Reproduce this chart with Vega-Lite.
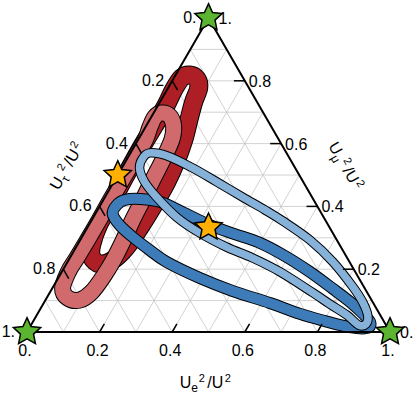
{
"$schema": "https://vega.github.io/schema/vega-lite/v6.json",
"width": 363, "height": 314,
"autosize": {"type": "none"},
"padding": {"left": 27, "top": 18, "right": 25, "bottom": 69},
"background": "white",
"config": {"view": {"stroke": null}},
"datasets": {
"grid": [
{"x":0.05,"y":0.0866,"x2":0.95,"y2":0.0866},{"x":0.1,"y":0.1732,"x2":0.9,"y2":0.1732},{"x":0.15,"y":0.2598,"x2":0.85,"y2":0.2598},{"x":0.2,"y":0.3464,"x2":0.8,"y2":0.3464},{"x":0.25,"y":0.433,"x2":0.75,"y2":0.433},{"x":0.3,"y":0.5196,"x2":0.7,"y2":0.5196},{"x":0.35,"y":0.6062,"x2":0.65,"y2":0.6062},{"x":0.4,"y":0.6928,"x2":0.6,"y2":0.6928},{"x":0.45,"y":0.7794,"x2":0.55,"y2":0.7794},
{"x":0.1,"y":0,"x2":0.55,"y2":0.7794},{"x":0.2,"y":0,"x2":0.6,"y2":0.6928},{"x":0.3,"y":0,"x2":0.65,"y2":0.6062},{"x":0.4,"y":0,"x2":0.7,"y2":0.5196},{"x":0.5,"y":0,"x2":0.75,"y2":0.433},{"x":0.6,"y":0,"x2":0.8,"y2":0.3464},{"x":0.7,"y":0,"x2":0.85,"y2":0.2598},{"x":0.8,"y":0,"x2":0.9,"y2":0.1732},{"x":0.9,"y":0,"x2":0.95,"y2":0.0866},
{"x":0.9,"y":0,"x2":0.45,"y2":0.7794},{"x":0.8,"y":0,"x2":0.4,"y2":0.6928},{"x":0.7,"y":0,"x2":0.35,"y2":0.6062},{"x":0.6,"y":0,"x2":0.3,"y2":0.5196},{"x":0.5,"y":0,"x2":0.25,"y2":0.433},{"x":0.4,"y":0,"x2":0.2,"y2":0.3464},{"x":0.3,"y":0,"x2":0.15,"y2":0.2598},{"x":0.2,"y":0,"x2":0.1,"y2":0.1732},{"x":0.1,"y":0,"x2":0.05,"y2":0.0866}
],
"triangle": [
{"x":0,"y":0,"x2":1,"y2":0},{"x":1,"y":0,"x2":0.5,"y2":0.866},{"x":0.5,"y":0.866,"x2":0,"y2":0}
],
"ticks": [
{"x":0.2,"y":0,"x2":0.213,"y2":0.0225},{"x":0.4,"y":0,"x2":0.413,"y2":0.0225},{"x":0.6,"y":0,"x2":0.613,"y2":0.0225},{"x":0.8,"y":0,"x2":0.813,"y2":0.0225},
{"x":0.4,"y":0.6928,"x2":0.415,"y2":0.6668},{"x":0.3,"y":0.5196,"x2":0.315,"y2":0.4936},{"x":0.2,"y":0.3464,"x2":0.215,"y2":0.3204},{"x":0.1,"y":0.1732,"x2":0.115,"y2":0.1472},
{"x":0.9,"y":0.1732,"x2":0.87,"y2":0.1732},{"x":0.8,"y":0.3464,"x2":0.77,"y2":0.3464},{"x":0.7,"y":0.5196,"x2":0.67,"y2":0.5196},{"x":0.6,"y":0.6928,"x2":0.57,"y2":0.6928}
],
"bottomlabels": [
{"x":0,"y":0,"t":"0."},{"x":0.2,"y":0,"t":"0.2"},{"x":0.4,"y":0,"t":"0.4"},{"x":0.6,"y":0,"t":"0.6"},{"x":0.8,"y":0,"t":"0.8"},{"x":1,"y":0,"t":"1."}
],
"leftlabels": [
{"x":0.4,"y":0.6928,"t":"0.2"},{"x":0.3,"y":0.5196,"t":"0.4"},{"x":0.2,"y":0.3464,"t":"0.6"},{"x":0.1,"y":0.1732,"t":"0.8"}
],
"rightlabels": [
{"x":0.6,"y":0.6928,"t":"0.8"},{"x":0.7,"y":0.5196,"t":"0.6"},{"x":0.8,"y":0.3464,"t":"0.4"},{"x":0.9,"y":0.1732,"t":"0.2"}
],
"vertexleft": [{"x":0.5,"y":0.866,"t":"0."},{"x":0,"y":0,"t":"1."}],
"vertexright": [{"x":0.5,"y":0.866,"t":"1."},{"x":1,"y":0,"t":"0."}],
"greenstars": [{"x":0,"y":0},{"x":1,"y":0},{"x":0.5,"y":0.866}],
"orangestars": [{"x":0.25,"y":0.433},{"x":0.5,"y":0.2887}],
"darkred": [
{"i":1,"x":0.426,"y":0.701},{"i":2,"x":0.448,"y":0.709},{"i":3,"x":0.468,"y":0.698},{"i":4,"x":0.473,"y":0.673},{"i":5,"x":0.459,"y":0.634},{"i":6,"x":0.446,"y":0.585},{"i":7,"x":0.432,"y":0.53},{"i":8,"x":0.412,"y":0.474},{"i":9,"x":0.385,"y":0.414},{"i":10,"x":0.349,"y":0.35},{"i":11,"x":0.31,"y":0.287},{"i":12,"x":0.272,"y":0.232},{"i":13,"x":0.233,"y":0.196},{"i":14,"x":0.2,"y":0.188},{"i":15,"x":0.178,"y":0.207},{"i":16,"x":0.178,"y":0.24},{"i":17,"x":0.197,"y":0.295},{"i":18,"x":0.228,"y":0.35},{"i":19,"x":0.258,"y":0.406},{"i":20,"x":0.288,"y":0.461},{"i":21,"x":0.319,"y":0.516},{"i":22,"x":0.352,"y":0.571},{"i":23,"x":0.382,"y":0.623},{"i":24,"x":0.404,"y":0.668}
],
"lightred": [
{"i":1,"x":0.338,"y":0.563},{"i":2,"x":0.352,"y":0.593},{"i":3,"x":0.371,"y":0.604},{"i":4,"x":0.393,"y":0.596},{"i":5,"x":0.404,"y":0.568},{"i":6,"x":0.399,"y":0.53},{"i":7,"x":0.374,"y":0.474},{"i":8,"x":0.346,"y":0.419},{"i":9,"x":0.319,"y":0.364},{"i":10,"x":0.291,"y":0.309},{"i":11,"x":0.266,"y":0.254},{"i":12,"x":0.241,"y":0.204},{"i":13,"x":0.211,"y":0.154},{"i":14,"x":0.178,"y":0.11},{"i":15,"x":0.145,"y":0.088},{"i":16,"x":0.112,"y":0.094},{"i":17,"x":0.098,"y":0.121},{"i":18,"x":0.114,"y":0.166},{"i":19,"x":0.137,"y":0.204},{"i":20,"x":0.167,"y":0.254},{"i":21,"x":0.199,"y":0.309},{"i":22,"x":0.23,"y":0.364},{"i":23,"x":0.262,"y":0.419},{"i":24,"x":0.294,"y":0.474},{"i":25,"x":0.326,"y":0.53}
],
"darkblue": [
{"i":0,"x":0.236,"y":0.326},{"i":1,"x":0.247,"y":0.35},{"i":2,"x":0.269,"y":0.364},{"i":3,"x":0.31,"y":0.367},{"i":4,"x":0.366,"y":0.359},{"i":5,"x":0.434,"y":0.328},{"i":6,"x":0.503,"y":0.295},{"i":7,"x":0.572,"y":0.27},{"i":8,"x":0.641,"y":0.246},{"i":9,"x":0.71,"y":0.21},{"i":10,"x":0.779,"y":0.166},{"i":11,"x":0.843,"y":0.119},{"i":12,"x":0.89,"y":0.083},{"i":13,"x":0.926,"y":0.05},{"i":14,"x":0.945,"y":0.028},{"i":15,"x":0.942,"y":0.013},{"i":16,"x":0.917,"y":0.01},{"i":17,"x":0.876,"y":0.016},{"i":18,"x":0.821,"y":0.03},{"i":19,"x":0.752,"y":0.05},{"i":20,"x":0.669,"y":0.08},{"i":21,"x":0.567,"y":0.113},{"i":22,"x":0.476,"y":0.149},{"i":23,"x":0.385,"y":0.193},{"i":24,"x":0.338,"y":0.226},{"i":25,"x":0.291,"y":0.262},{"i":26,"x":0.255,"y":0.295}
],
"lightblue": [
{"i":0,"x":0.31,"y":0.452},{"i":1,"x":0.319,"y":0.48},{"i":2,"x":0.338,"y":0.494},{"i":3,"x":0.385,"y":0.486},{"i":4,"x":0.457,"y":0.452},{"i":5,"x":0.523,"y":0.414},{"i":6,"x":0.594,"y":0.372},{"i":7,"x":0.655,"y":0.337},{"i":8,"x":0.705,"y":0.306},{"i":9,"x":0.779,"y":0.254},{"i":10,"x":0.843,"y":0.193},{"i":11,"x":0.898,"y":0.124},{"i":12,"x":0.926,"y":0.08},{"i":13,"x":0.939,"y":0.044},{"i":14,"x":0.934,"y":0.022},{"i":15,"x":0.914,"y":0.019},{"i":16,"x":0.881,"y":0.047},{"i":17,"x":0.834,"y":0.077},{"i":18,"x":0.788,"y":0.108},{"i":19,"x":0.697,"y":0.166},{"i":20,"x":0.622,"y":0.204},{"i":21,"x":0.55,"y":0.234},{"i":22,"x":0.476,"y":0.273},{"i":23,"x":0.412,"y":0.317},{"i":24,"x":0.357,"y":0.372},{"i":25,"x":0.324,"y":0.414}
],
"titlebottom": [{"x":0.4207,"y":-0.1545,"sub":"e"}],
"titleleft": [{"x":0.0869,"y":0.389,"sub":"τ"}],
"titleright": [{"x":0.829,"y":0.513,"sub":"μ"}]
},
"encoding": {
"x": {"field": "x", "type": "quantitative", "scale": {"domain": [0, 1], "nice": false, "zero": false}, "axis": null},
"y": {"field": "y", "type": "quantitative", "scale": {"domain": [0, 0.866], "nice": false, "zero": false}, "axis": null}
},
"layer": [
{"data": {"name": "grid"}, "mark": {"type": "rule", "stroke": "#c6c6c6", "strokeWidth": 0.8}, "encoding": {"x2": {"field": "x2"}, "y2": {"field": "y2"}}},
{"data": {"name": "darkred"}, "mark": {"type": "line", "interpolate": "cardinal-closed", "stroke": "black", "strokeWidth": 19, "strokeJoin": "round"}, "encoding": {"order": {"field": "i", "type": "quantitative"}}},
{"data": {"name": "darkred"}, "mark": {"type": "line", "interpolate": "cardinal-closed", "stroke": "#ad1f24", "strokeWidth": 17, "strokeJoin": "round"}, "encoding": {"order": {"field": "i", "type": "quantitative"}}},
{"data": {"name": "lightred"}, "mark": {"type": "line", "interpolate": "cardinal-closed", "stroke": "black", "strokeWidth": 17, "strokeJoin": "round"}, "encoding": {"order": {"field": "i", "type": "quantitative"}}},
{"data": {"name": "lightred"}, "mark": {"type": "line", "interpolate": "cardinal-closed", "stroke": "#d06a6c", "strokeWidth": 15, "strokeJoin": "round"}, "encoding": {"order": {"field": "i", "type": "quantitative"}}},
{"data": {"name": "darkblue"}, "mark": {"type": "line", "interpolate": "cardinal-closed", "stroke": "black", "strokeWidth": 12, "strokeJoin": "round"}, "encoding": {"order": {"field": "i", "type": "quantitative"}}},
{"data": {"name": "darkblue"}, "mark": {"type": "line", "interpolate": "cardinal-closed", "stroke": "#3e7cb9", "strokeWidth": 10, "strokeJoin": "round"}, "encoding": {"order": {"field": "i", "type": "quantitative"}}},
{"data": {"name": "lightblue"}, "mark": {"type": "line", "interpolate": "cardinal-closed", "stroke": "black", "strokeWidth": 9.5, "strokeJoin": "round"}, "encoding": {"order": {"field": "i", "type": "quantitative"}}},
{"data": {"name": "lightblue"}, "mark": {"type": "line", "interpolate": "cardinal-closed", "stroke": "#86b2da", "strokeWidth": 7.5, "strokeJoin": "round"}, "encoding": {"order": {"field": "i", "type": "quantitative"}}},
{"data": {"name": "triangle"}, "mark": {"type": "rule", "stroke": "black", "strokeWidth": 2, "strokeCap": "round"}, "encoding": {"x2": {"field": "x2"}, "y2": {"field": "y2"}}},
{"data": {"name": "ticks"}, "mark": {"type": "rule", "stroke": "black", "strokeWidth": 1.5}, "encoding": {"x2": {"field": "x2"}, "y2": {"field": "y2"}}},
{"data": {"name": "bottomlabels"}, "mark": {"type": "text", "font": "Liberation Sans", "fontSize": 16, "align": "center", "baseline": "middle", "dx": -2, "dy": 19, "color": "black"}, "encoding": {"text": {"field": "t"}}},
{"data": {"name": "leftlabels"}, "mark": {"type": "text", "font": "Liberation Sans", "fontSize": 16, "align": "right", "baseline": "middle", "dx": -8, "dy": 0, "color": "black"}, "encoding": {"text": {"field": "t"}}},
{"data": {"name": "rightlabels"}, "mark": {"type": "text", "font": "Liberation Sans", "fontSize": 16, "align": "left", "baseline": "middle", "dx": 4, "dy": 1, "color": "black"}, "encoding": {"text": {"field": "t"}}},
{"data": {"name": "vertexleft"}, "mark": {"type": "text", "font": "Liberation Sans", "fontSize": 16, "align": "right", "baseline": "middle", "dx": -12, "dy": 0, "color": "black"}, "encoding": {"text": {"field": "t"}}},
{"data": {"name": "vertexright"}, "mark": {"type": "text", "font": "Liberation Sans", "fontSize": 16, "align": "left", "baseline": "middle", "dx": 10, "dy": 1, "color": "black"}, "encoding": {"text": {"field": "t"}}},
{"data": {"name": "titlebottom"}, "layer": [
 {"mark": {"type": "text", "font": "Liberation Sans", "fontSize": 16, "align": "left", "baseline": "alphabetic", "angle": 0, "dx": 0, "dy": 0, "color": "black"}, "encoding": {"text": {"value": "U"}}},
 {"mark": {"type": "text", "font": "Liberation Sans", "fontSize": 12, "align": "left", "baseline": "alphabetic", "angle": 0, "dx": 11.5, "dy": 4, "color": "black"}, "encoding": {"text": {"field": "sub"}}},
 {"mark": {"type": "text", "font": "Liberation Sans", "fontSize": 11, "align": "left", "baseline": "alphabetic", "angle": 0, "dx": 19, "dy": -6, "color": "black"}, "encoding": {"text": {"value": "2"}}},
 {"mark": {"type": "text", "font": "Liberation Sans", "fontSize": 16, "align": "left", "baseline": "alphabetic", "angle": 0, "dx": 27.5, "dy": 0, "color": "black"}, "encoding": {"text": {"value": "/U"}}},
 {"mark": {"type": "text", "font": "Liberation Sans", "fontSize": 11, "align": "left", "baseline": "alphabetic", "angle": 0, "dx": 45, "dy": -6, "color": "black"}, "encoding": {"text": {"value": "2"}}}
]},
{"data": {"name": "titleleft"}, "layer": [
 {"mark": {"type": "text", "font": "Liberation Sans", "fontSize": 16, "align": "left", "baseline": "alphabetic", "angle": 300, "dx": 0, "dy": 0, "color": "black"}, "encoding": {"text": {"value": "U"}}},
 {"mark": {"type": "text", "font": "Liberation Sans", "fontSize": 12, "align": "left", "baseline": "alphabetic", "angle": 300, "dx": 11.5, "dy": 4, "color": "black"}, "encoding": {"text": {"field": "sub"}}},
 {"mark": {"type": "text", "font": "Liberation Sans", "fontSize": 11, "align": "left", "baseline": "alphabetic", "angle": 300, "dx": 19, "dy": -6, "color": "black"}, "encoding": {"text": {"value": "2"}}},
 {"mark": {"type": "text", "font": "Liberation Sans", "fontSize": 16, "align": "left", "baseline": "alphabetic", "angle": 300, "dx": 27.5, "dy": 0, "color": "black"}, "encoding": {"text": {"value": "/U"}}},
 {"mark": {"type": "text", "font": "Liberation Sans", "fontSize": 11, "align": "left", "baseline": "alphabetic", "angle": 300, "dx": 45, "dy": -6, "color": "black"}, "encoding": {"text": {"value": "2"}}}
]},
{"data": {"name": "titleright"}, "layer": [
 {"mark": {"type": "text", "font": "Liberation Sans", "fontSize": 16, "align": "left", "baseline": "alphabetic", "angle": 60, "dx": 0, "dy": 0, "color": "black"}, "encoding": {"text": {"value": "U"}}},
 {"mark": {"type": "text", "font": "Liberation Sans", "fontSize": 12, "align": "left", "baseline": "alphabetic", "angle": 60, "dx": 11.5, "dy": 4, "color": "black"}, "encoding": {"text": {"field": "sub"}}},
 {"mark": {"type": "text", "font": "Liberation Sans", "fontSize": 11, "align": "left", "baseline": "alphabetic", "angle": 60, "dx": 20, "dy": -6, "color": "black"}, "encoding": {"text": {"value": "2"}}},
 {"mark": {"type": "text", "font": "Liberation Sans", "fontSize": 16, "align": "left", "baseline": "alphabetic", "angle": 60, "dx": 28.5, "dy": 0, "color": "black"}, "encoding": {"text": {"value": "/U"}}},
 {"mark": {"type": "text", "font": "Liberation Sans", "fontSize": 11, "align": "left", "baseline": "alphabetic", "angle": 60, "dx": 46, "dy": -6, "color": "black"}, "encoding": {"text": {"value": "2"}}}
]},
{"data": {"name": "orangestars"}, "mark": {"type": "point", "shape": "M0,-1L0.282,-0.388L0.951,-0.309L0.456,0.148L0.588,0.809L0,0.48L-0.588,0.809L-0.456,0.148L-0.951,-0.309L-0.282,-0.388Z", "size": 820, "filled": true, "fill": "#ffb000", "stroke": "black", "strokeWidth": 1.5, "opacity": 1}},
{"data": {"name": "greenstars"}, "mark": {"type": "point", "shape": "M0,-1L0.282,-0.388L0.951,-0.309L0.456,0.148L0.588,0.809L0,0.48L-0.588,0.809L-0.456,0.148L-0.951,-0.309L-0.282,-0.388Z", "size": 820, "filled": true, "fill": "#5cb531", "stroke": "black", "strokeWidth": 1.5, "opacity": 1}}
]
}
